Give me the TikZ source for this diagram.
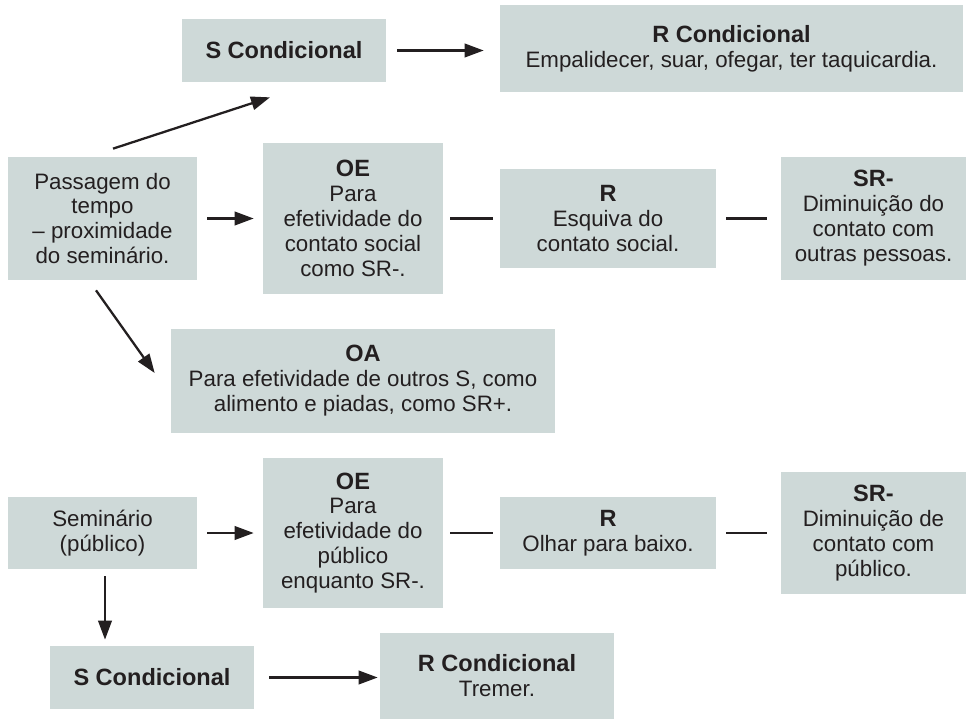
\documentclass[tikz,border=0pt]{standalone}
\usepackage{fontspec}
\setmainfont{Liberation Sans}
\usetikzlibrary{arrows.meta,positioning,calc}
\definecolor{boxfill}{RGB}{206,217,216}
\definecolor{ink}{RGB}{35,31,32}
\newcommand{\hd}[1]{{\fontsize{13.4}{14.2}\selectfont\bfseries #1}}

\begin{document}
\begin{tikzpicture}[
  x=0.02cm, y=-0.02cm,
  every node/.style={font=\fontsize{12.7}{14.2}\selectfont, text=ink},
  box/.style={fill=boxfill, align=center, inner sep=0pt},
  arr/.style={-{Triangle[length=0.38cm,width=0.27cm]}, line width=1.3pt, draw=ink},
  link/.style={line width=1.3pt, draw=ink}
]
\useasboundingbox (0,0) rectangle (966,719);

\node[box, minimum width=4.08cm, minimum height=1.26cm] (scond1) at (284,50.5) {\hd{S Condicional}};
\node[box, minimum width=9.26cm, minimum height=1.74cm] (rcond1) at (731.5,48.5) {\hd{R Condicional}\\Empalidecer, suar, ofegar, ter taquicardia.};
\node[box, minimum width=3.78cm, minimum height=2.46cm] (passagem) at (102.5,218.5) {Passagem do\\tempo\\– proximidade\\do seminário.};
\node[box, minimum width=3.6cm, minimum height=3.02cm] (oe1) at (353,218.5) {\hd{OE}\\Para\\efetividade do\\contato social\\como SR-.};
\node[box, minimum width=4.32cm, minimum height=1.98cm] (r1) at (608,218.5) {\hd{R}\\Esquiva do\\contato social.};
\node[box, minimum width=3.7cm, minimum height=2.46cm] (sr1) at (873.5,218.5) {\hd{SR-}\\Diminuição do\\contato com\\outras pessoas.};
\node[box, minimum width=7.68cm, minimum height=2.08cm] (oa) at (363,381) {\hd{OA}\\Para efetividade de outros S, como\\alimento e piadas, como SR+.};
\node[box, minimum width=3.78cm, minimum height=1.44cm] (seminario) at (102.5,533) {Seminário\\(público)};
\node[box, minimum width=3.6cm, minimum height=3.0cm] (oe2) at (353,533) {\hd{OE}\\Para\\efetividade do\\público\\enquanto SR-.};
\node[box, minimum width=4.32cm, minimum height=1.46cm] (r2) at (608,533) {\hd{R}\\Olhar para baixo.};
\node[box, minimum width=3.7cm, minimum height=2.46cm] (sr2) at (873.5,533) {\hd{SR-}\\Diminuição de\\contato com\\público.};
\node[box, minimum width=4.08cm, minimum height=1.26cm] (scond2) at (152,677.5) {\hd{S Condicional}};
\node[box, minimum width=4.68cm, minimum height=1.72cm] (rcond2) at (497,676) {\hd{R Condicional}\\Tremer.};

\coordinate (sdown) at ([shift={(2.5,0)}]seminario.south);

\draw[arr, shorten <=0.22cm, shorten >=0.32cm] (scond1.east) -- (scond1.east -| rcond1.west);
\draw[arr] ([shift={(10.5,-8)}]passagem.north) -- ([shift={(-14,15)}]scond1.south);
\draw[arr, shorten <=0.2cm, shorten >=0.18cm] (passagem) -- (oe1);
\draw[link, shorten <=0.14cm, shorten >=0.14cm] (oe1) -- (r1);
\draw[link, shorten <=0.2cm, shorten >=0.28cm] (r1) -- (sr1);
\draw[arr] ([shift={(-6.5,10)}]passagem.south) -- ([shift={(-16,-8)}]oa.west);
\draw[arr, shorten <=0.2cm, shorten >=0.18cm] (seminario) -- (oe2);
\draw[link, shorten <=0.14cm, shorten >=0.14cm] (oe2) -- (r2);
\draw[link, shorten <=0.2cm, shorten >=0.28cm] (r2) -- (sr2);
\draw[arr, shorten <=0.14cm, shorten >=0.12cm] (sdown) -- (sdown |- scond2.north);
\draw[arr, shorten <=0.3cm, shorten >=0.04cm] (scond2.east) -- (scond2.east -| rcond2.west);
\end{tikzpicture}
\end{document}
